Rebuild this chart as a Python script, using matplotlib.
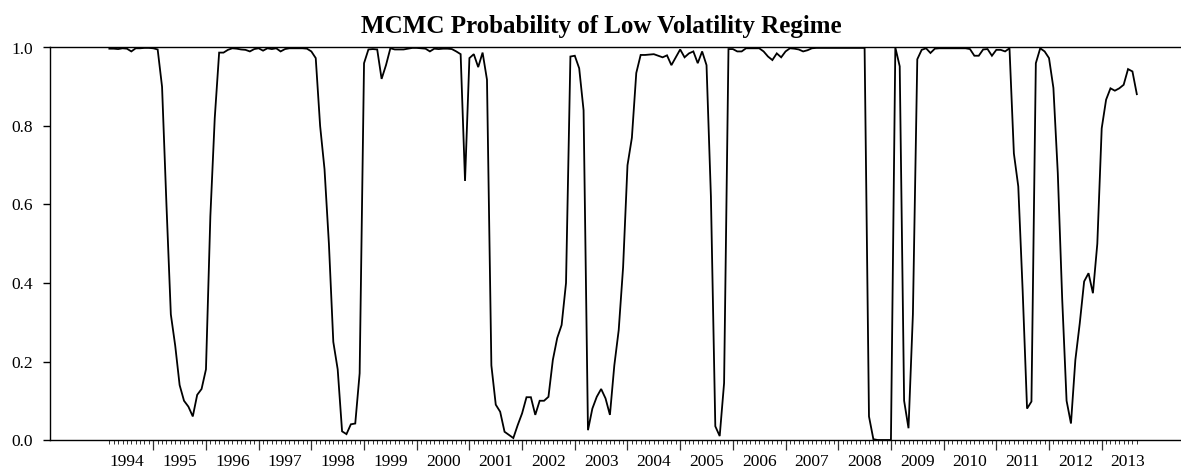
import matplotlib
matplotlib.use("Agg")
import matplotlib.pyplot as plt
import matplotlib.transforms as mtransforms
import numpy as np

# Monthly smoothed probability of the low-volatility regime, 1994m3 .. 2013m9
start_year = 1994
start_month = 3
prob_low_vol = [
    0.997, 0.997, 0.996, 0.998, 0.997, 0.990, 0.998, 0.998, 0.999, 0.999,   # 1994
    0.998, 0.995, 0.900, 0.600, 0.320, 0.240, 0.140, 0.100, 0.085, 0.060,   # 1995
    0.115, 0.130,
    0.180, 0.570, 0.820, 0.987, 0.987, 0.994, 0.998, 0.997, 0.995, 0.994,   # 1996
    0.990, 0.996,
    0.998, 0.992, 0.998, 0.996, 0.998, 0.990, 0.996, 0.998, 0.998, 0.998,   # 1997
    0.998, 0.997,
    0.990, 0.973, 0.800, 0.690, 0.500, 0.250, 0.180, 0.022, 0.015, 0.040,   # 1998
    0.042, 0.170,
    0.960, 0.995, 0.996, 0.995, 0.920, 0.955, 0.998, 0.995, 0.995, 0.995,   # 1999
    0.997, 0.999,
    0.999, 0.998, 0.997, 0.990, 0.997, 0.996, 0.997, 0.997, 0.996, 0.990,   # 2000
    0.983, 0.660,
    0.973, 0.983, 0.950, 0.987, 0.918, 0.190, 0.090, 0.072, 0.021, 0.013,   # 2001
    0.005, 0.038,
    0.068, 0.109, 0.109, 0.064, 0.100, 0.100, 0.110, 0.204, 0.260, 0.293,   # 2002
    0.400, 0.977,
    0.979, 0.947, 0.840, 0.025, 0.080, 0.110, 0.130, 0.106, 0.064, 0.190,   # 2003
    0.280, 0.440,
    0.700, 0.770, 0.935, 0.981, 0.981, 0.982, 0.983, 0.979, 0.975, 0.980,   # 2004
    0.955, 0.975,
    0.995, 0.975, 0.985, 0.990, 0.960, 0.990, 0.955, 0.620, 0.035, 0.010,   # 2005
    0.145, 0.996,
    0.996, 0.990, 0.990, 0.998, 0.998, 0.998, 0.998, 0.990, 0.977, 0.968,   # 2006
    0.985, 0.975,
    0.990, 0.998, 0.997, 0.995, 0.990, 0.993, 0.998, 0.999, 0.999, 0.999,   # 2007
    0.999, 0.999,
    0.999, 0.999, 0.999, 0.999, 0.999, 0.999, 0.999, 0.060, 0.002, 0.000,   # 2008
    0.000, 0.000,
    0.000, 1.000, 0.952, 0.100, 0.030, 0.320, 0.970, 0.994, 0.998, 0.986,   # 2009
    0.997, 0.998,
    0.998, 0.998, 0.998, 0.998, 0.998, 0.998, 0.996, 0.979, 0.979, 0.995,   # 2010
    0.996, 0.979,
    0.994, 0.994, 0.990, 0.998, 0.730, 0.646, 0.380, 0.080, 0.098, 0.960,   # 2011
    0.998, 0.990,
    0.973, 0.897, 0.680, 0.360, 0.100, 0.042, 0.204, 0.297, 0.404, 0.425,   # 2012
    0.374, 0.500,
    0.794, 0.867, 0.896, 0.890, 0.896, 0.905, 0.945, 0.939, 0.881,          # 2013
]
year_labels = [str(y) for y in range(1994, 2014)]
y_ticks = [0.0, 0.2, 0.4, 0.6, 0.8, 1.0]

plt.rcParams["font.family"] = ["Liberation Serif", "DejaVu Serif"]

n = len(prob_low_vol)
t = start_year + (start_month - 1 + np.arange(n)) / 12.0

W, H, DPI = 1181, 469, 100
fig = plt.figure(figsize=(W / DPI, H / DPI), dpi=DPI)
ax = fig.add_axes([50 / W, (H - 440) / H, (W - 50) / W, (440 - 47.5) / H])

ax.plot(t, prob_low_vol, color="black", lw=1.3, solid_joinstyle="miter")

ax.set_xlim(1993.040, 2014.505)
ax.set_ylim(0.0, 1.0)

ax.set_yticks(y_ticks)
ax.set_yticklabels([f"{v:.1f}" for v in y_ticks], fontsize=12.5)
ax.tick_params(axis="y", direction="out", length=5.3, width=1.0, pad=7, color="black")

years = np.arange(1995, 2014)
ax.set_xticks(years)
ax.set_xticklabels([])
ax.set_xticks(t, minor=True)
ax.tick_params(axis="x", which="major", direction="out", length=7.2, width=0.9, color="#333333")
ax.tick_params(axis="x", which="minor", direction="out", length=2.9, width=0.7, color="#333333")

trans = mtransforms.blended_transform_factory(ax.transData, ax.transAxes) + \
    mtransforms.ScaledTranslation(0, -26 / DPI, fig.dpi_scale_trans)
for lbl in year_labels:
    ax.text(int(lbl) + 0.5, 0, lbl, transform=trans, ha="center", va="baseline", fontsize=12.5)

for side in ("right",):
    ax.spines[side].set_visible(False)
for side in ("left", "top", "bottom"):
    ax.spines[side].set_linewidth(1.0)
    ax.spines[side].set_color("black")

fig.text(601 / W, (H - 33) / H, "MCMC Probability of Low Volatility Regime",
         ha="center", va="baseline", fontsize=18, fontweight="bold")

fig.savefig("out.png", dpi=DPI)
